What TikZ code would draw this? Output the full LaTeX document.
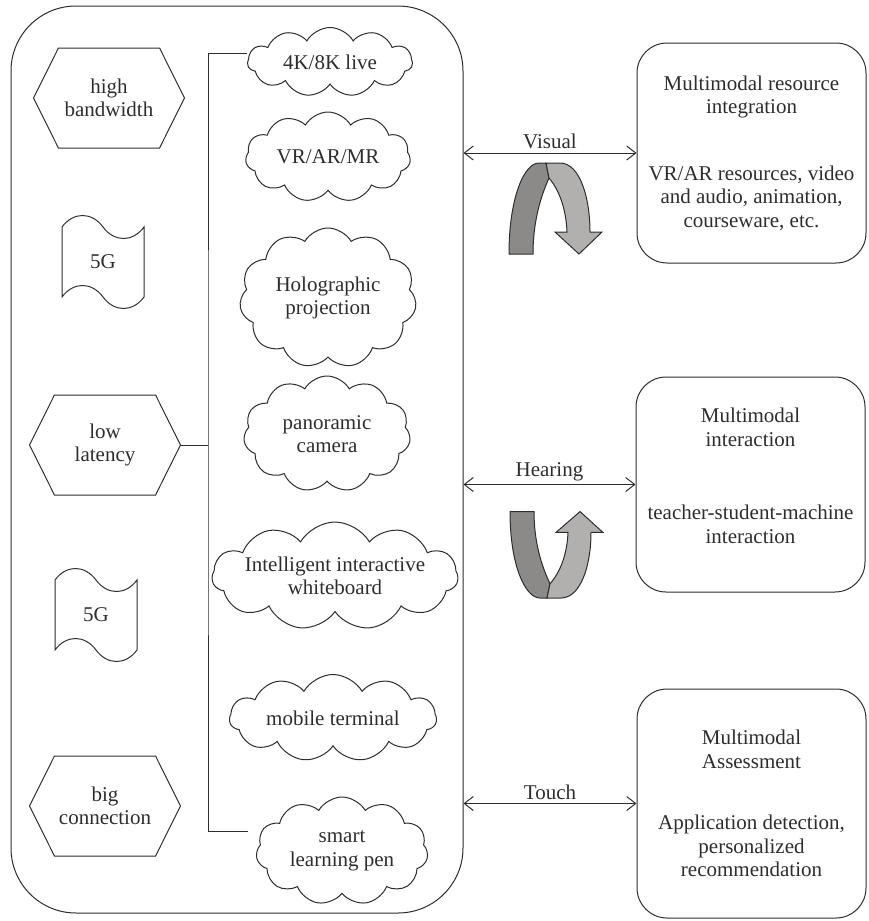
\documentclass[tikz,border=0pt]{standalone}
\usepackage{fontspec}
\setmainfont{Liberation Serif}
\definecolor{inkgray}{RGB}{45,45,45}
\definecolor{banddark}{RGB}{140,137,137}
\definecolor{bandlight}{RGB}{178,175,175}
\usetikzlibrary{arrows.meta,positioning,shapes.symbols}
\tikzset{
  uturn/.pic={
    \draw[fill=banddark] (-41,91) .. controls (-41,35) and (-26,0) .. (-11,0) -- (-4,0) -- (-1,15) .. controls (-10,35) and (-17,60) .. (-17,91) -- cycle;
    \draw[fill=bandlight] (-4,0) -- (10,0) .. controls (30,0) and (40,35) .. (40,69) -- (52,69) -- (29,91) -- (5,69) -- (17,69) .. controls (16,45) and (9,27) .. (-1,15) -- cycle;
  }
}

\begin{document}
\begin{tikzpicture}[x=1pt,y=-1pt,line width=1pt,draw=inkgray,
  every node/.style={font=\fontsize{21}{23.5}\selectfont,text=inkgray},
  every label/.append style={align=center},
  hexa/.style={draw,shape=signal,signal to=east and west,signal pointer angle=127,minimum width=151,minimum height=100,align=center,inner sep=0},
  flag/.style={draw,shape=tape,tape bend top=out and in,tape bend bottom=out and in,tape bend height=23,minimum width=82,minimum height=93,inner sep=0},
  puff/.style={draw,shape=cloud,cloud puffs=11,cloud puff arc=120,cloud ignores aspect,inner sep=0},
  panel/.style={draw,rounded corners=30,minimum width=229,align=center,inner sep=0},
  link/.style={{Straight Barb[length=9pt,width=14pt]}-{Straight Barb[length=9pt,width=14pt]}}]
  \useasboundingbox (0,0) rectangle (868,921);
  \node[draw,rounded corners=65,minimum width=452,minimum height=907] (frame) at (237,459.5) {};
  \node[hexa] (bw) at (109,98) {high\\bandwidth};
  \node[flag] (g1) at (103,262) {5G};
  \node[hexa] (lat) at (105,445) {low\\latency};
  \node[flag] (g2) at (96,615) {5G};
  \node[hexa] (big) at (105,806) {big\\connection};
  \node[puff,minimum width=165,minimum height=69,label=center:4K/8K live] (live) at (330,62) {};
  \node[puff,minimum width=165,minimum height=90,label=center:VR/AR/MR] (vr) at (328,157) {};
  \node[puff,minimum width=177,minimum height=140,label={center:Holographic\\projection}] (holo) at (328,298) {};
  \node[puff,minimum width=167,minimum height=116,label={center:panoramic\\camera}] (cam) at (327,434) {};
  \node[puff,minimum width=246,minimum height=108,label={center:Intelligent interactive\\whiteboard}] (board) at (335,576) {};
  \node[puff,minimum width=207,minimum height=87,label=center:mobile terminal] (mob) at (333,718) {};
  \node[puff,minimum width=172,minimum height=108,label={center:smart\\learning pen}] (pen) at (342,851) {};
  \coordinate (brk) at (208,443);
  \draw ([yshift=9]live.west) -| (brk) |- ([xshift=-8,yshift=20]pen.west);
  \draw (lat.east) -- (lat.east -| brk);
  \node[panel,minimum height=220] (res) at (751.5,153) {Multimodal resource\\integration\\[43pt]VR/AR resources, video\\and audio, animation,\\courseware, etc.};
  \node[panel,minimum height=215] (inter) at (750.5,484.5) {Multimodal\\interaction\\[50pt]teacher-student-machine\\interaction\\[-6pt]\mbox{}};
  \node[panel,minimum height=229] (assess) at (751.5,803.5) {Multimodal\\Assessment\\[38pt]Application detection,\\personalized\\recommendation};
  \draw[link] (frame.east |- res.west) -- node[above] {Visual} (res.west);
  \draw[link] (frame.east |- inter.west) -- node[above] {Hearing} (inter.west);
  \draw[link] (frame.east |- assess.west) -- node[above] {Touch} (assess.west);
  \pic at (550,163) {uturn};
  \pic[yscale=-0.95] at (551,598) {uturn};
\end{tikzpicture}
\end{document}
